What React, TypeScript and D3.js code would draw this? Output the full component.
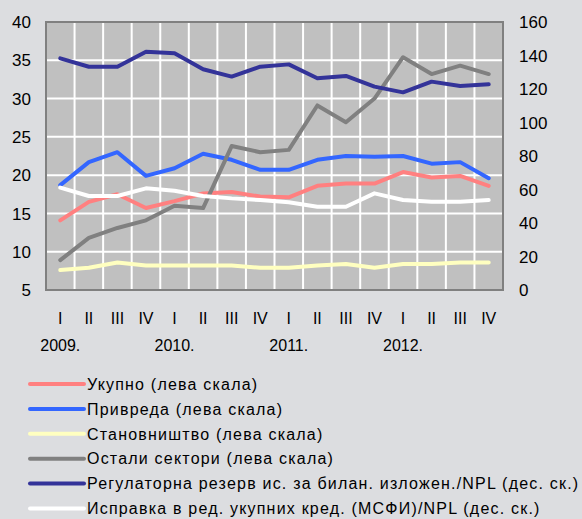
import React from "react";
import * as d3 from "d3";

const width = 582;
const height = 519;
const margin = {left: 46, top: 22, right: 79, bottom: 229};

const quarters = ["I", "II", "III", "IV", "I", "II", "III", "IV", "I", "II", "III", "IV", "I", "II", "III", "IV"];
const years = ["2009.", "2010.", "2011.", "2012."];

// left scale
const ukupno = [14.1, 16.5, 17.5, 15.7, 16.6, 17.6, 17.8, 17.2, 17.1, 18.6, 18.9, 18.9, 20.4, 19.7, 19.9, 18.6];
const privreda = [18.7, 21.7, 23.0, 19.9, 20.9, 22.8, 22.0, 20.7, 20.7, 22.0, 22.5, 22.4, 22.5, 21.5, 21.7, 19.6];
const stanovnistvo = [7.6, 7.9, 8.6, 8.2, 8.2, 8.2, 8.2, 7.9, 7.9, 8.2, 8.4, 7.9, 8.4, 8.4, 8.6, 8.6];
const ostali = [8.9, 11.8, 13.1, 14.1, 16.0, 15.7, 23.8, 23.0, 23.3, 29.1, 26.9, 30.0, 35.4, 33.2, 34.3, 33.2];
// right scale
const regulatorna = [138.3, 133.3, 133.3, 142.3, 141.3, 131.8, 127.4, 133.3, 134.7, 126.4, 127.8, 121.4, 118.0, 124.4, 121.8, 122.8];
const ispravka = [61.1, 56.1, 56.1, 60.7, 59.3, 56.1, 54.7, 53.7, 52.4, 49.7, 49.7, 57.7, 53.7, 52.7, 52.7, 53.7];

const leftTicks = [5, 10, 15, 20, 25, 30, 35, 40];
const rightTicks = [0, 20, 40, 60, 80, 100, 120, 140, 160];

const series = [
    {name: "Укупно (лева скала)", values: ukupno, color: "#ff8080", axis: "left"},
    {name: "Привреда (лева скала)", values: privreda, color: "#3366ff", axis: "left"},
    {name: "Становништво (лева скала)", values: stanovnistvo, color: "#ffffc0", axis: "left"},
    {name: "Остали сектори (лева скала)", values: ostali, color: "#808080", axis: "left"},
    {name: "Регулаторна резерв ис. за билан. изложен./NPL (дес. ск.)", values: regulatorna, color: "#333399", axis: "right"},
    {name: "Исправка в ред. укупних кред. (МСФИ)/NPL (дес. ск.)", values: ispravka, color: "#ffffff", axis: "right"},
];

const font = "Arial, 'Liberation Sans', sans-serif";

export default function App() {
    const x0 = margin.left;
    const x1 = width - margin.right;
    const y0 = margin.top;
    const y1 = height - margin.bottom;

    const x = d3.scaleBand<number>().domain(d3.range(quarters.length)).range([x0, x1]);
    const yLeft = d3.scaleLinear().domain([5, 40]).range([y1, y0]);
    const yRight = d3.scaleLinear().domain([0, 160]).range([y1, y0]);

    const cx = (i: number) => (x(i) as number) + x.bandwidth() / 2;

    return (
        <svg width={width} height={height} style={{position: "absolute", left: 0, top: 0}} fontFamily={font}>
            <rect width={width} height={height} fill="#dcdde0"/>
            <rect x={x0} y={y0} width={x1 - x0} height={y1 - y0} fill="#c0c0c0"/>

            {/* grid */}
            {leftTicks.slice(1, -1).map(t => (
                <line key={"h" + t} x1={x0} x2={x1} y1={yLeft(t)} y2={yLeft(t)} stroke="#fff" strokeWidth={2}/>
            ))}
            {d3.range(1, quarters.length).map(i => (
                <line key={"v" + i} x1={x(i)} x2={x(i)} y1={y0} y2={y1} stroke="#fff" strokeWidth={2}/>
            ))}
            <rect x={x0} y={y0} width={x1 - x0} height={y1 - y0} fill="none" stroke="#808080" strokeWidth={2}/>

            {/* lines */}
            {series.map(s => {
                const yScale = s.axis === "left" ? yLeft : yRight;
                const line = d3.line<number>().x((d, i) => cx(i)).y(d => yScale(d));
                return <path key={s.name} d={line(s.values) || ""} fill="none" stroke={s.color} strokeWidth={4}
                             strokeLinejoin="round" strokeLinecap="round"/>;
            })}

            {/* axes */}
            {leftTicks.map(t => (
                <text key={"l" + t} x={31} y={yLeft(t)} dy="0.36em" textAnchor="end" fontSize={17}>{t}</text>
            ))}
            {rightTicks.map(t => (
                <text key={"r" + t} x={519} y={yRight(t)} dy="0.36em" fontSize={17}>{t}</text>
            ))}
            {quarters.map((q, i) => (
                <text key={"q" + i} x={cx(i)} y={324} textAnchor="middle" fontSize={16}>{q}</text>
            ))}
            {years.map((yr, i) => (
                <text key={yr} x={cx(i * 4)} y={351} textAnchor="middle" fontSize={16}>{yr}</text>
            ))}

            {/* legend */}
            {series.map((s, i) => {
                const ly = 384 + i * 24.9;
                return (
                    <g key={"lg" + i}>
                        <line x1={30} x2={84} y1={ly} y2={ly} stroke={s.color} strokeWidth={4} strokeLinecap="round"/>
                        <text x={87} y={ly} dy="0.36em" fontSize={16} letterSpacing={1.2}>{s.name}</text>
                    </g>
                );
            })}
        </svg>
    );
}
